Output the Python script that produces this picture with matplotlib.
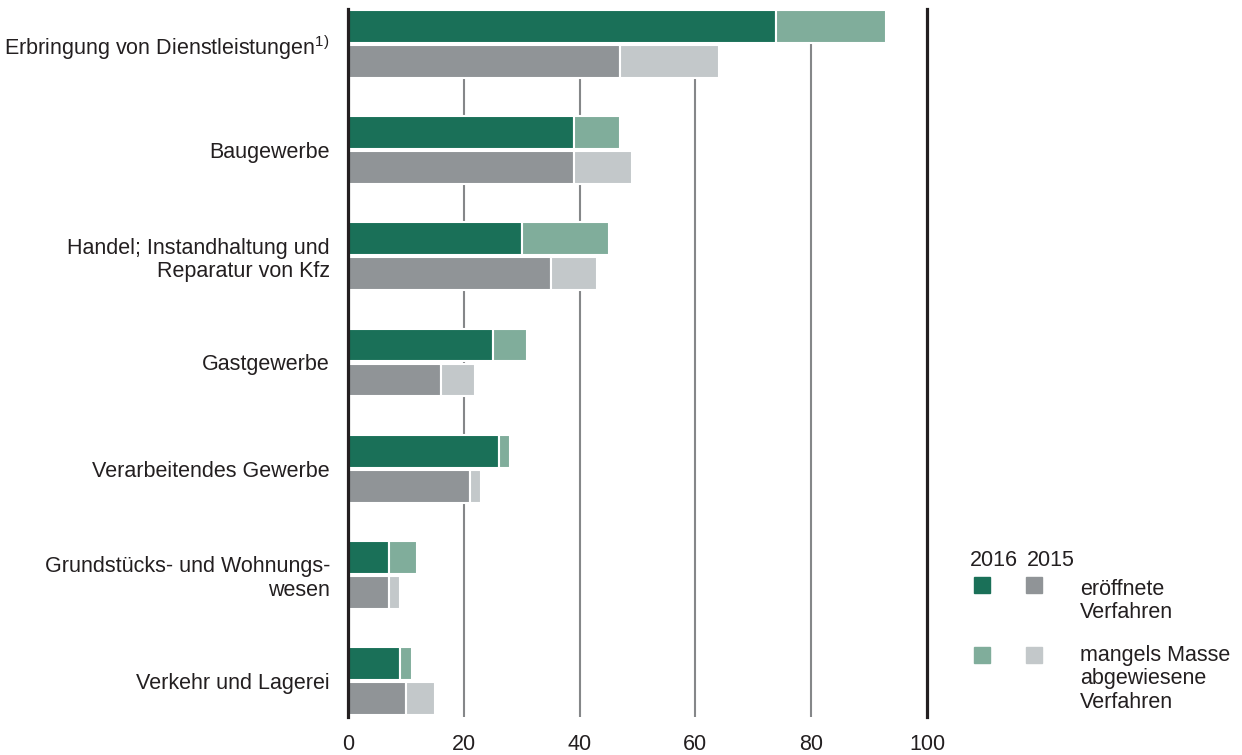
import matplotlib
matplotlib.use("Agg")
import matplotlib.pyplot as plt
from matplotlib.patches import Rectangle
import numpy as np

plt.rcParams['font.family'] = ['Liberation Sans', 'DejaVu Sans']
plt.rcParams['mathtext.fontset'] = 'custom'
plt.rcParams['mathtext.rm'] = 'Liberation Sans'
plt.rcParams['mathtext.it'] = 'Liberation Sans'

categories = [
    r"Erbringung von Dienstleistungen$^{\mathrm{1)}}$",
    "Baugewerbe",
    "Handel; Instandhaltung und\nReparatur von Kfz",
    "Gastgewerbe",
    "Verarbeitendes Gewerbe",
    "Grundstücks- und Wohnungs-\nwesen",
    "Verkehr und Lagerei",
]
opened_2016 = [74, 39, 30, 25, 26, 7, 9]
rejected_2016 = [19, 8, 15, 6, 2, 5, 2]
opened_2015 = [47, 39, 35, 16, 21, 7, 10]
rejected_2015 = [17, 10, 8, 6, 2, 2, 5]
xticks = [0, 20, 40, 60, 80, 100]

c_dark_green = "#1a7058"
c_light_green = "#80ad9b"
c_dark_gray = "#909497"
c_light_gray = "#c3c8ca"
txt = "#231f20"
FS = 15.5

fig = plt.figure(figsize=(12.42, 7.55), dpi=100)
W, H = 1242, 755
ax = fig.add_axes([348 / W, 1 - 717 / H, (927 - 348) / W, (717 - 9) / H])

y = np.arange(len(categories))
h = 0.31
off = 0.165
ed = dict(edgecolor="white", linewidth=1.5, zorder=3)
ax.barh(y - off, opened_2016, height=h, color=c_dark_green, **ed)
ax.barh(y - off, rejected_2016, left=opened_2016, height=h, color=c_light_green, **ed)
ax.barh(y + off, opened_2015, height=h, color=c_dark_gray, **ed)
ax.barh(y + off, rejected_2015, left=opened_2015, height=h, color=c_light_gray, **ed)

for xv in xticks[1:-1]:
    ax.axvline(xv, color="#858789", linewidth=1.5, zorder=1)
ax.axvline(0, color=txt, linewidth=2.3, zorder=4, clip_on=False)
ax.axvline(100, color=txt, linewidth=2.3, zorder=4, clip_on=False)

ax.set_xlim(0, 100)
ax.set_ylim(len(categories) - 1 + 0.34, -0.33)
for s in ax.spines.values():
    s.set_visible(False)
ax.set_xticks(xticks)
ax.set_xticklabels([str(v) for v in xticks], fontsize=FS, color=txt)
ax.tick_params(axis="x", length=0, pad=12)
ax.set_yticks(y)
ax.set_yticklabels(categories, fontsize=FS, color=txt, ha="right", linespacing=1.15)
ax.tick_params(axis="y", length=0, pad=13)

# legend
def px(x, yy):
    return x / W, 1 - yy / H

fig.text(*px(970, 561), "2016", fontsize=FS, color=txt, va="center")
fig.text(*px(1027, 561), "2015", fontsize=FS, color=txt, va="center")
sq = 16
for (x0, y0, c) in [(974, 577, c_dark_green), (1026, 577, c_dark_gray),
                    (974, 647, c_light_green), (1026, 647, c_light_gray)]:
    fig.patches.append(Rectangle(px(x0, y0 + sq), sq / W, sq / H, color=c,
                                 transform=fig.transFigure, figure=fig))
fig.text(*px(1080, 579), "eröffnete\nVerfahren", fontsize=FS, color=txt,
         va="top", linespacing=1.15)
fig.text(*px(1080, 645), "mangels Masse\nabgewiesene\nVerfahren", fontsize=FS,
         color=txt, va="top", linespacing=1.15)

fig.savefig("out.png", dpi=100)
